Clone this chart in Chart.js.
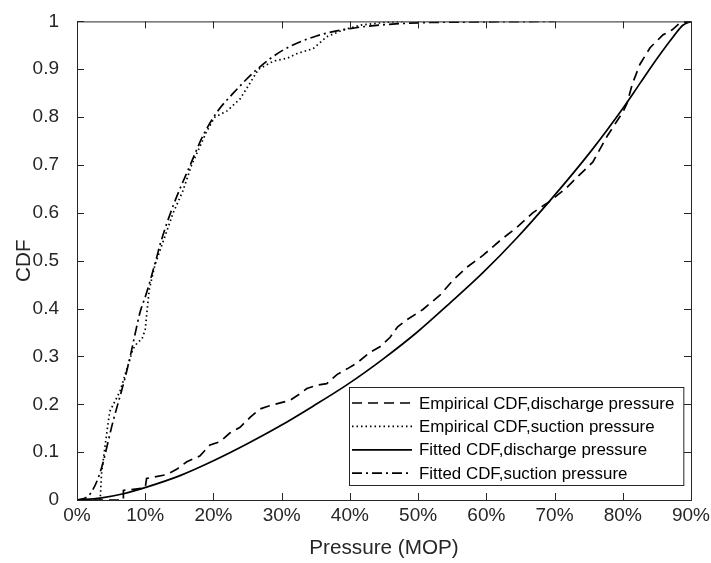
<!DOCTYPE html>
<html>
<head>
<meta charset="utf-8">
<title>CDF</title>
<script src="https://cdn.jsdelivr.net/npm/chart.js@4.4.1/dist/chart.umd.min.js"></script>
<style>
  html, body { margin: 0; padding: 0; background: #fff; }
  #cdfChart { display: block; }
</style>
</head>
<body>
<canvas id="cdfChart" width="711" height="563"></canvas>
<script>
// pressure as % of MOP, CDF values
const dischargeEmpX = [0, 6.8, 6.8, 10.0, 10.2, 13.1, 14.6, 16.1, 18.0, 19.5, 21.0, 22.4, 23.9, 25.4, 26.8, 28.0, 29.8, 31.2, 32.7, 33.7, 35.2, 36.6, 38.1, 39.6, 41.0, 43.0, 44.4, 45.9, 47.0, 48.4, 50.7, 53.2, 55.1, 57.3, 59.5, 62.0, 64.5, 66.8, 69.3, 71.8, 73.7, 75.6, 77.7, 79.2, 80.0, 80.6, 81.4, 82.5, 84.0, 85.9, 87.2, 88.4, 90.0];
const dischargeEmpY = [0, 0, 0.02, 0.025, 0.045, 0.053, 0.064, 0.08, 0.092, 0.115, 0.122, 0.14, 0.152, 0.173, 0.19, 0.196, 0.203, 0.208, 0.222, 0.233, 0.24, 0.243, 0.262, 0.274, 0.286, 0.309, 0.32, 0.34, 0.362, 0.377, 0.398, 0.428, 0.459, 0.488, 0.511, 0.542, 0.57, 0.6, 0.624, 0.653, 0.68, 0.706, 0.76, 0.793, 0.81, 0.828, 0.869, 0.91, 0.945, 0.972, 0.982, 0.997, 1.0];

const suctionEmpX = [0, 3.4, 3.6, 4.4, 4.8, 6.3, 8.2, 8.9, 9.5, 10.0, 10.3, 10.6, 11.4, 12.5, 14.1, 15.5, 16.8, 19.0, 20.2, 22.0, 23.9, 25.4, 26.6, 28.8, 30.8, 32.3, 34.6, 36.6, 39.0, 41.5, 45.0, 48.0];
const suctionEmpY = [0, 0, 0.056, 0.144, 0.185, 0.227, 0.315, 0.33, 0.335, 0.356, 0.4, 0.44, 0.49, 0.535, 0.6, 0.645, 0.7, 0.77, 0.8, 0.813, 0.838, 0.872, 0.9, 0.917, 0.923, 0.933, 0.943, 0.968, 0.982, 0.992, 0.998, 1.0];

const dischargeFitX = [0, 3.4, 6.8, 10.2, 15.1, 20.0, 24.9, 29.8, 34.6, 39.6, 44.9, 49.8, 54.7, 59.5, 64.5, 69.3, 75.4, 80.0, 82.5, 85.0, 87.4, 88.8, 90.0];
const dischargeFitY = [0, 0.004, 0.013, 0.027, 0.051, 0.082, 0.117, 0.155, 0.196, 0.241, 0.295, 0.35, 0.412, 0.475, 0.548, 0.625, 0.73, 0.818, 0.87, 0.922, 0.968, 0.992, 1.0];

const suctionFitX = [0, 1.0, 2.0, 3.4, 5.3, 7.0, 7.8, 8.5, 9.2, 10.2, 11.7, 12.2, 14.1, 16.6, 18.5, 20.5, 22.9, 26.4, 30.2, 35.2, 40.0, 45.0, 50.0, 60.0, 70.0];
const suctionFitY = [0, 0.003, 0.014, 0.058, 0.165, 0.253, 0.3, 0.346, 0.39, 0.433, 0.508, 0.535, 0.615, 0.7, 0.762, 0.81, 0.85, 0.9, 0.94, 0.97, 0.985, 0.993, 0.997, 0.999, 1.0];

const seriesNames = [
  'Empirical CDF,discharge pressure',
  'Empirical CDF,suction pressure',
  'Fitted CDF,discharge pressure',
  'Fitted CDF,suction pressure'
];
const xTicks = [0, 10, 20, 30, 40, 50, 60, 70, 80, 90];
const yTicks = [0, 0.1, 0.2, 0.3, 0.4, 0.5, 0.6, 0.7, 0.8, 0.9, 1];

const FONT = '"Liberation Sans", Arial, sans-serif';
const INK = '#262626';
const dashes = [[10, 6], [1.5, 3], [], [10, 4, 2, 4]];

const toPoints = (xs, ys) => xs.map((x, i) => ({ x: x, y: ys[i] }));

const makeSet = (idx, xs, ys, smooth) => ({
  label: seriesNames[idx],
  data: toPoints(xs, ys),
  borderColor: '#000',
  borderWidth: 1.7,
  borderDash: dashes[idx],
  pointRadius: 0,
  fill: false,
  tension: 0,
  cubicInterpolationMode: smooth ? 'monotone' : 'default'
});

// axes box with inward ticks on all four sides
const boxPlugin = {
  id: 'boxTicks',
  afterDatasetsDraw(chart) {
    const { ctx, chartArea: a, scales } = chart;
    const len = 7;
    ctx.save();
    ctx.strokeStyle = INK;
    ctx.lineWidth = 1;
    ctx.setLineDash([]);
    ctx.strokeRect(a.left + 0.5, a.top + 0.5, a.right - a.left, a.bottom - a.top);
    ctx.beginPath();
    xTicks.forEach(v => {
      const px = Math.round(scales.x.getPixelForValue(v)) + 0.5;
      ctx.moveTo(px, a.bottom);
      ctx.lineTo(px, a.bottom - len);
      ctx.moveTo(px, a.top);
      ctx.lineTo(px, a.top + len);
    });
    yTicks.forEach(v => {
      const py = Math.round(scales.y.getPixelForValue(v)) + 0.5;
      ctx.moveTo(a.left, py);
      ctx.lineTo(a.left + len, py);
      ctx.moveTo(a.right, py);
      ctx.lineTo(a.right - len, py);
    });
    ctx.stroke();
    ctx.restore();
  }
};

// legend box in the lower right corner of the plot
const legendPlugin = {
  id: 'cornerLegend',
  afterDraw(chart) {
    const { ctx, chartArea: a } = chart;
    ctx.save();
    ctx.font = '16.9px ' + FONT;
    const textW = Math.max(...seriesNames.map(s => ctx.measureText(s).width));
    const lineW = 60;
    const w = 4 + lineW + 6 + textW + 9;
    const rowH = 23.4;
    const h = 98;
    const right = a.right - 8;
    const bottom = a.bottom - 15;
    const left = Math.round(right - w);
    const top = Math.round(bottom - h);
    ctx.fillStyle = '#fff';
    ctx.fillRect(left, top, w, h);
    ctx.strokeStyle = INK;
    ctx.lineWidth = 1;
    ctx.strokeRect(left + 0.5, top + 0.5, w, h);
    seriesNames.forEach((name, i) => {
      const cy = top + 16 + i * rowH;
      ctx.beginPath();
      ctx.setLineDash(dashes[i]);
      ctx.strokeStyle = '#000';
      ctx.lineWidth = 1.7;
      ctx.moveTo(left + 3, cy);
      ctx.lineTo(left + 3 + lineW, cy);
      ctx.stroke();
      ctx.setLineDash([]);
      ctx.fillStyle = '#000';
      ctx.textAlign = 'left';
      ctx.textBaseline = 'middle';
      ctx.fillText(name, left + 4 + lineW + 6, cy + 1);
    });
    ctx.restore();
  }
};

new Chart(document.getElementById('cdfChart'), {
  type: 'line',
  data: {
    datasets: [
      makeSet(0, dischargeEmpX, dischargeEmpY, false),
      makeSet(1, suctionEmpX, suctionEmpY, false),
      makeSet(2, dischargeFitX, dischargeFitY, true),
      makeSet(3, suctionFitX, suctionFitY, true)
    ]
  },
  options: {
    responsive: false,
    animation: false,
    devicePixelRatio: 1,
    layout: { padding: { top: 14, right: 20, left: 0, bottom: 0 } },
    plugins: {
      legend: { display: false },
      tooltip: { enabled: false }
    },
    scales: {
      x: {
        type: 'linear',
        min: 0,
        max: 90,
        afterBuildTicks: s => { s.ticks = xTicks.map(v => ({ value: v })); },
        afterFit: s => { s.height = 63; },
        ticks: {
          callback: v => v + '%',
          font: { family: FONT, size: 19 },
          color: INK,
          padding: -4,
          maxRotation: 0
        },
        grid: { display: false },
        border: { display: false },
        title: {
          display: true,
          text: 'Pressure (MOP)',
          font: { family: FONT, size: 20.7 },
          color: INK,
          padding: { top: 0, bottom: 2 }
        }
      },
      y: {
        type: 'linear',
        min: 0,
        max: 1,
        afterBuildTicks: s => { s.ticks = yTicks.map(v => ({ value: v })); },
        afterFit: s => { s.width = 77; },
        ticks: {
          callback: v => String(+v.toFixed(1)),
          font: { family: FONT, size: 19 },
          color: INK,
          padding: 10
        },
        grid: { display: false },
        border: { display: false },
        title: {
          display: true,
          text: 'CDF',
          font: { family: FONT, size: 20.7 },
          color: INK,
          padding: { top: 12, bottom: 0 }
        }
      }
    }
  },
  plugins: [boxPlugin, legendPlugin]
});
</script>
</body>
</html>
